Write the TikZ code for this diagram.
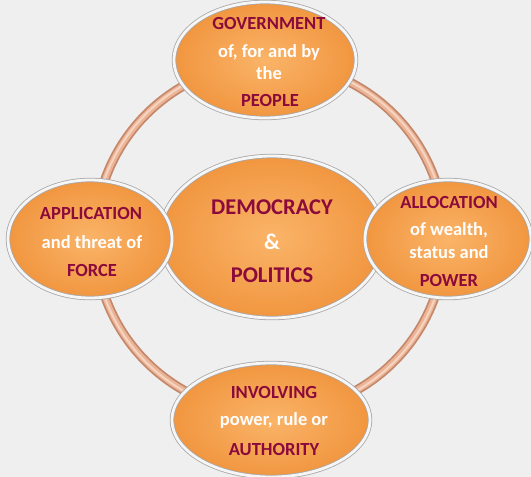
\documentclass[tikz,border=0pt]{standalone}
\usepackage{fontspec}
\setmainfont{Carlito}
\usetikzlibrary{shapes.geometric}
\definecolor{bg}{HTML}{EFEFEF}
\definecolor{maroon}{HTML}{8B0A3C}
\definecolor{orlight}{HTML}{FAB468}
\definecolor{ordark}{HTML}{F19640}
\definecolor{rimgray}{HTML}{A8A8A8}
\definecolor{rimlight}{HTML}{F6F6F6}
\definecolor{ringdark}{HTML}{C4876A}
\definecolor{ringmid}{HTML}{EBB496}
\definecolor{ringlight}{HTML}{F6D4C0}
\tikzset{
  bub/.style={ellipse, inner sep=0pt, draw=rimgray, line width=0.8pt,
    double=rimlight, double distance=2.8pt,
    shading=radial, inner color=orlight, outer color=ordark},
  hd/.style={text=maroon, font=\fontsize{18.5}{22}\selectfont\bfseries},
  wt/.style={text=white, font=\fontsize{18.5}{22}\selectfont\bfseries, align=center},
  bighd/.style={text=maroon, font=\fontsize{22.5}{27}\selectfont\bfseries},
  bigwt/.style={text=white, font=\fontsize{22.5}{27}\selectfont\bfseries},
}
\begin{document}
\begin{tikzpicture}[x=1pt,y=-1pt]
\fill[bg] (0,0) rectangle (531,477);
\useasboundingbox (0,0) rectangle (531,477);
% ring
\coordinate (rc) at (270,238);
\draw[ringdark, line width=9.5pt] (rc) circle[radius=175];
\draw[ringmid, line width=6pt] (rc) circle[radius=175];
\draw[ringlight, line width=2pt] (rc) circle[radius=175.5];
% centre
\node[bub, minimum width=224pt, minimum height=162pt] (c) at (272,237) {};
% satellites
\node[bub, minimum width=182pt, minimum height=116pt] (t) at (265,60) {};
\node[bub, minimum width=164pt, minimum height=118pt] (l) at (90,239) {};
\node[bub, minimum width=166pt, minimum height=118pt] (r) at (448,239) {};
\node[bub, minimum width=198pt, minimum height=114pt] (b) at (271,420) {};
% texts centre
\node[bighd] (c1) at (272,207) {DEMOCRACY};
\node[bigwt] (c2) at (272,242) {\&};
\node[bighd] (c3) at (272,275) {POLITICS};
% top
\node[hd] (t1) at (269,23) {GOVERNMENT};
\node[wt] (t2) at (269,52) {of, for and by};
\node[wt] (t3) at (269,73) {the};
\node[hd] (t4) at (270,100) {PEOPLE};
% left
\node[hd] (l1) at (91,213) {APPLICATION};
\node[wt] (l2) at (92,242) {and threat of};
\node[hd] (l3) at (92,270) {FORCE};
% right
\node[hd] (r1) at (449,202) {ALLOCATION};
\node[wt] (r2) at (449,230) {of wealth,};
\node[wt] (r3) at (449,252) {status and};
\node[hd] (r4) at (449,280) {POWER};
% bottom
\node[hd] (b1) at (274,392) {INVOLVING};
\node[wt] (b2) at (274,420) {power, rule or};
\node[hd] (b3) at (274,449) {AUTHORITY};
\end{tikzpicture}
\end{document}
